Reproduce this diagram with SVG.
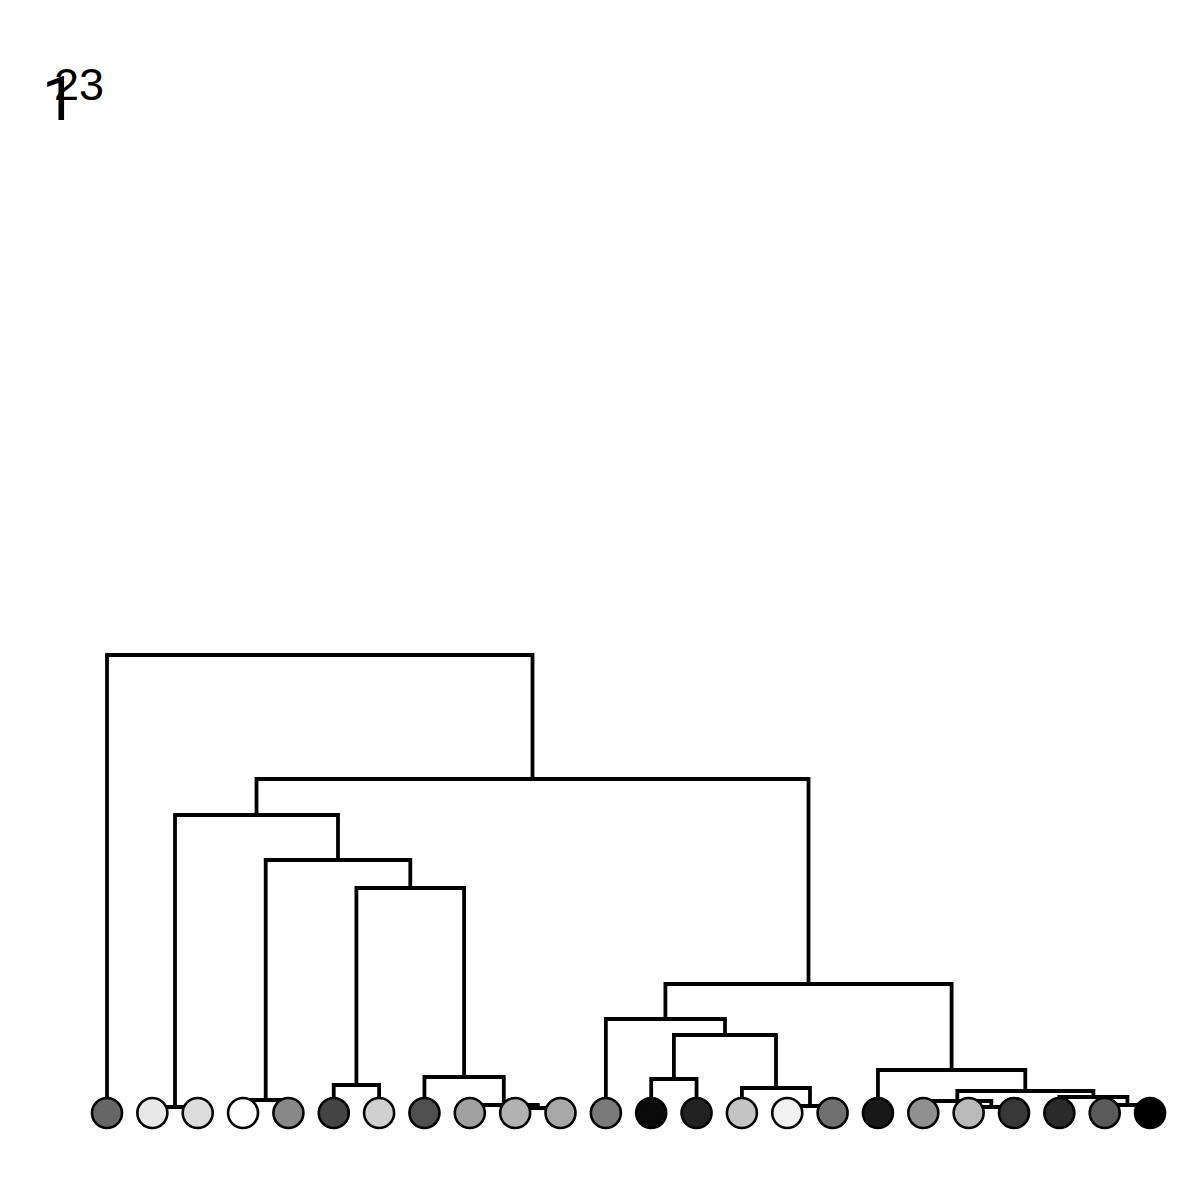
<svg xmlns="http://www.w3.org/2000/svg" width="1200" height="1200" viewBox="0 0 1200 1200">
<style>
.lk{fill:none;stroke:#000;stroke-width:3.8;stroke-linejoin:miter;stroke-linecap:square}
.lf{stroke:#000;stroke-width:2.6}
.lbl{fill:#000}
</style>
<rect width="1200" height="1200" fill="#fff"/>
<text class="lbl" x="42" y="120" font-family="Roboto, 'Liberation Sans', sans-serif" font-size="62">1</text>
<text class="lbl" x="54" y="100" font-family="'Liberation Sans', Arial, sans-serif" font-size="45">23</text>
<g id="connectors">
<path class="lk" d="M152.35 1113 V1107 H197.7 V1113"/>
<path class="lk" d="M243.05 1113 V1100 H288.4 V1113"/>
<path class="lk" d="M333.75 1113 V1085 H379.1 V1113"/>
<path class="lk" d="M515.15 1113 V1108 H560.5 V1113"/>
<path class="lk" d="M469.8 1113 V1105 H537.8 V1108"/>
<path class="lk" d="M424.45 1113 V1077 H503.8 V1105"/>
<path class="lk" d="M356.4 1085 V888 H464.1 V1077"/>
<path class="lk" d="M265.7 1100 V860 H410.3 V888"/>
<path class="lk" d="M175 1107 V815 H338 V860"/>
<path class="lk" d="M651.2 1113 V1079 H696.55 V1113"/>
<path class="lk" d="M787.25 1113 V1106 H832.6 V1113"/>
<path class="lk" d="M741.9 1113 V1088 H810 V1106"/>
<path class="lk" d="M673.9 1079 V1035 H776 V1088"/>
<path class="lk" d="M605.85 1113 V1019 H725 V1035"/>
<path class="lk" d="M968.65 1113 V1107 H1014 V1113"/>
<path class="lk" d="M923.3 1113 V1101 H991.3 V1107"/>
<path class="lk" d="M1104.7 1113 V1105 H1150.05 V1113"/>
<path class="lk" d="M1059.35 1113 V1097 H1127.4 V1105"/>
<path class="lk" d="M957.3 1101 V1091 H1093.4 V1097"/>
<path class="lk" d="M877.95 1113 V1070 H1025.3 V1091"/>
<path class="lk" d="M665.4 1019 V984 H951.6 V1070"/>
<path class="lk" d="M256.5 815 V779 H808.5 V984"/>
<path class="lk" d="M107 1113 V655 H532.5 V779"/>
</g>
<g id="n0"><circle class="lf" cx="107" cy="1113" r="15" fill="#666"/></g>
<g id="n1"><circle class="lf" cx="152.35" cy="1113" r="15" fill="#e8e8e8"/></g>
<g id="n2"><circle class="lf" cx="197.7" cy="1113" r="15" fill="#dcdcdc"/></g>
<g id="n3"><circle class="lf" cx="243.05" cy="1113" r="15" fill="#fff"/></g>
<g id="n4"><circle class="lf" cx="288.4" cy="1113" r="15" fill="#888"/></g>
<g id="n5"><circle class="lf" cx="333.75" cy="1113" r="15" fill="#444"/></g>
<g id="n6"><circle class="lf" cx="379.1" cy="1113" r="15" fill="#d0d0d0"/></g>
<g id="n7"><circle class="lf" cx="424.45" cy="1113" r="15" fill="#505050"/></g>
<g id="n8"><circle class="lf" cx="469.8" cy="1113" r="15" fill="#a0a0a0"/></g>
<g id="n9"><circle class="lf" cx="515.15" cy="1113" r="15" fill="#b2b2b2"/></g>
<g id="n10"><circle class="lf" cx="560.5" cy="1113" r="15" fill="#a8a8a8"/></g>
<g id="n11"><circle class="lf" cx="605.85" cy="1113" r="15" fill="#7a7a7a"/></g>
<g id="n12"><circle class="lf" cx="651.2" cy="1113" r="15" fill="#0a0a0a"/></g>
<g id="n13"><circle class="lf" cx="696.55" cy="1113" r="15" fill="#222"/></g>
<g id="n14"><circle class="lf" cx="741.9" cy="1113" r="15" fill="#c4c4c4"/></g>
<g id="n15"><circle class="lf" cx="787.25" cy="1113" r="15" fill="#f0f0f0"/></g>
<g id="n16"><circle class="lf" cx="832.6" cy="1113" r="15" fill="#707070"/></g>
<g id="n17"><circle class="lf" cx="877.95" cy="1113" r="15" fill="#181818"/></g>
<g id="n18"><circle class="lf" cx="923.3" cy="1113" r="15" fill="#909090"/></g>
<g id="n19"><circle class="lf" cx="968.65" cy="1113" r="15" fill="#bababa"/></g>
<g id="n20"><circle class="lf" cx="1014" cy="1113" r="15" fill="#383838"/></g>
<g id="n21"><circle class="lf" cx="1059.35" cy="1113" r="15" fill="#2a2a2a"/></g>
<g id="n22"><circle class="lf" cx="1104.7" cy="1113" r="15" fill="#5a5a5a"/></g>
<g id="n23"><circle class="lf" cx="1150.05" cy="1113" r="15" fill="#000"/></g>
</svg>
